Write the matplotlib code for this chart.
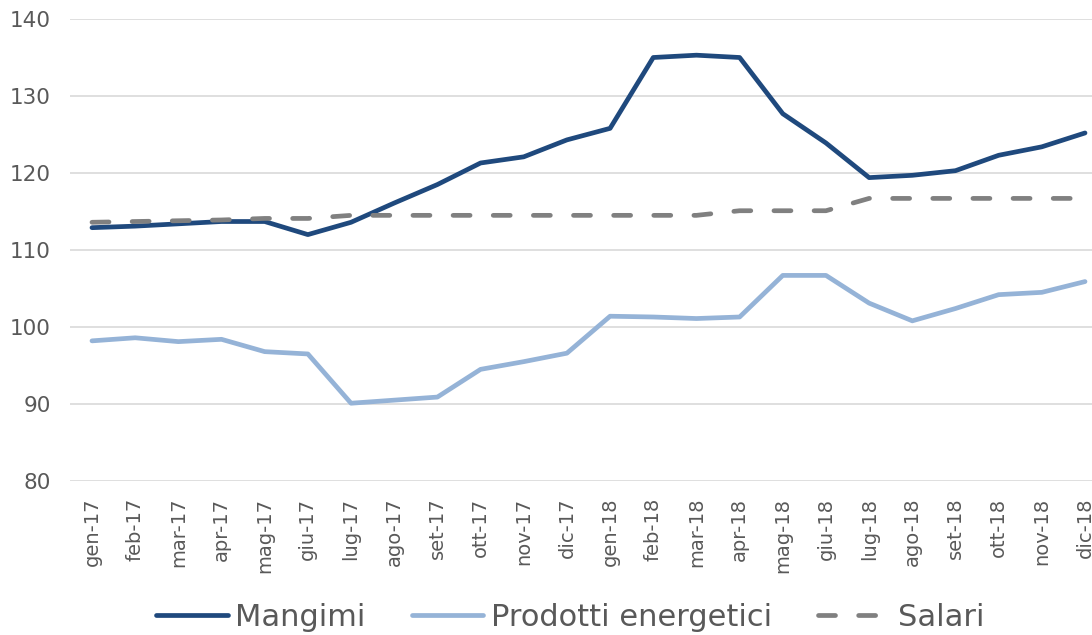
import matplotlib
matplotlib.use("Agg")
import matplotlib.pyplot as plt

months = ["gen-17", "feb-17", "mar-17", "apr-17", "mag-17", "giu-17", "lug-17", "ago-17",
          "set-17", "ott-17", "nov-17", "dic-17", "gen-18", "feb-18", "mar-18", "apr-18",
          "mag-18", "giu-18", "lug-18", "ago-18", "set-18", "ott-18", "nov-18", "dic-18"]
mangimi = [112.9, 113.1, 113.4, 113.7, 113.7, 112.0, 113.6, 116.1, 118.5, 121.3, 122.1, 124.3,
           125.8, 135.0, 135.3, 135.0, 127.7, 123.9, 119.4, 119.7, 120.3, 122.3, 123.4, 125.2]
energetici = [98.2, 98.6, 98.1, 98.4, 96.8, 96.5, 90.1, 90.5, 90.9, 94.5, 95.5, 96.6,
              101.4, 101.3, 101.1, 101.3, 106.7, 106.7, 103.1, 100.8, 102.4, 104.2, 104.5, 105.9]
salari = [113.6, 113.7, 113.8, 113.9, 114.1, 114.1, 114.5, 114.5, 114.5, 114.5, 114.5, 114.5,
          114.5, 114.5, 114.5, 115.1, 115.1, 115.1, 116.7, 116.7, 116.7, 116.7, 116.7, 116.7]
series_names = ["Mangimi", "Prodotti energetici", "Salari"]
yticks = [80, 90, 100, 110, 120, 130, 140]

plt.rcParams['font.family'] = ['DejaVu Sans']
fig = plt.figure(figsize=(10.92, 6.35), dpi=100)
ax = fig.add_axes([70.4 / 1092, 1 - 481 / 635, 1036.2 / 1092, 462 / 635])

x = list(range(len(months)))
ax.plot(x, mangimi, color="#1F497D", lw=3.4, solid_capstyle="round", solid_joinstyle="round",
        label=series_names[0], zorder=3)
ax.plot(x, energetici, color="#95B3D7", lw=3.4, solid_capstyle="round", solid_joinstyle="round",
        label=series_names[1], zorder=3)
ax.plot(x, salari, color="#808080", lw=3.4, dashes=(3.6, 4.9), dash_capstyle="round",
        label=series_names[2], zorder=3)

ax.set_xlim(-0.5, len(months) - 0.5)
ax.set_ylim(80, 140)
ax.set_yticks(yticks)
ax.grid(axis="y", color="#D9D9D9", lw=1.2)
ax.set_axisbelow(True)
for s in ax.spines.values():
    s.set_visible(False)
ax.set_xticks(x)
ax.set_xticklabels(months, rotation=90, fontsize=14, color="#595959")
ax.tick_params(axis="x", length=0, pad=12)
ax.tick_params(axis="y", length=0, pad=14, labelsize=15.5, labelcolor="#595959")

leg = fig.legend(loc="center", bbox_to_anchor=(0.522, 0.028), ncol=3, frameon=False,
                 fontsize=22, handlelength=2.35, columnspacing=1.5, handletextpad=0.25,
                 labelcolor="#595959")
fig.savefig("out.png", dpi=100)
